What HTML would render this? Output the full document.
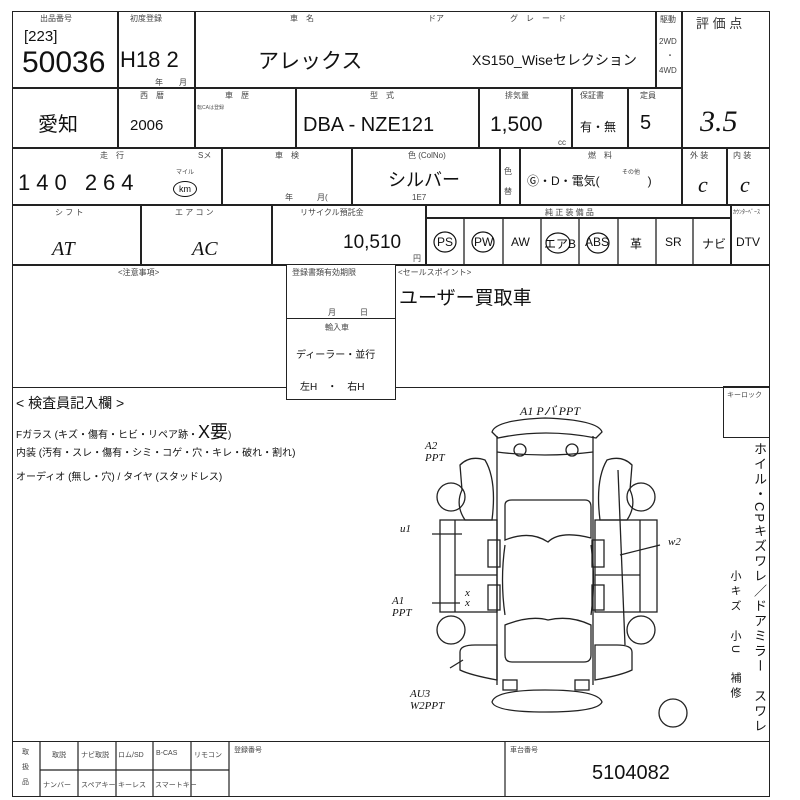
<!DOCTYPE html>
<html><head><meta charset="utf-8"><style>
body{margin:0;width:800px;height:800px;background:#fff;position:relative;overflow:hidden;font-family:"Liberation Sans","Noto Sans CJK JP",sans-serif;color:#111}
.b{position:absolute;border:1.5px solid #222;box-sizing:border-box}
.t{position:absolute;white-space:nowrap}
.h{position:absolute;font-size:8px;color:#444;white-space:nowrap}
.hw{position:absolute;font-family:"Liberation Serif","Noto Sans CJK JP",serif;font-style:italic;white-space:nowrap}
</style></head><body>
<!-- row1 -->
<div class="b" style="left:12px;top:11px;width:107px;height:78px"></div>
<div class="b" style="left:117px;top:11px;width:79px;height:78px"></div>
<div class="b" style="left:194px;top:11px;width:463px;height:78px"></div>
<div class="b" style="left:655px;top:11px;width:28px;height:78px"></div>
<div class="b" style="left:681px;top:11px;width:89px;height:138px"></div>
<div class="h" style="left:40px;top:13px">出品番号</div>
<div class="t" style="left:24px;top:28px;font-size:15px">[223]</div>
<div class="t" style="left:22px;top:46px;font-size:30px">50036</div>
<div class="h" style="left:130px;top:13px">初度登録</div>
<div class="t" style="left:120px;top:47px;font-size:22px">H18 2</div>
<div class="h" style="left:155px;top:77px">年　　月</div>
<div class="h" style="left:290px;top:13px">車　名</div>
<div class="h" style="left:428px;top:13px">ドア</div>
<div class="h" style="left:510px;top:13px">グ　レ　ー　ド</div>
<div class="t" style="left:258px;top:45px;font-size:21px">アレックス</div>
<div class="t" style="left:472px;top:50px;font-size:14px">XS150_Wiseセレクション</div>
<div class="h" style="left:660px;top:14px">駆動</div>
<div class="h" style="left:659px;top:37px">2WD</div>
<div class="h" style="left:666px;top:50px">・</div>
<div class="h" style="left:659px;top:66px">4WD</div>
<div class="t" style="left:696px;top:13px;font-size:13px;color:#333">評 価 点</div>
<div class="hw" style="left:700px;top:105px;font-size:30px">3.5</div>
<!-- row2 -->
<div class="b" style="left:12px;top:87px;width:107px;height:62px"></div>
<div class="b" style="left:117px;top:87px;width:79px;height:62px"></div>
<div class="b" style="left:194px;top:87px;width:103px;height:62px"></div>
<div class="b" style="left:295px;top:87px;width:185px;height:62px"></div>
<div class="b" style="left:478px;top:87px;width:95px;height:62px"></div>
<div class="b" style="left:571px;top:87px;width:58px;height:62px"></div>
<div class="b" style="left:627px;top:87px;width:56px;height:62px"></div>
<div class="t" style="left:38px;top:108px;font-size:20px">愛知</div>
<div class="h" style="left:140px;top:90px">西　暦</div>
<div class="t" style="left:130px;top:117px;font-size:15px">2006</div>
<div class="h" style="left:225px;top:90px">車　歴</div>
<div class="t" style="left:197px;top:104px;font-size:5px;color:#555">転CAは登録</div>
<div class="h" style="left:370px;top:90px">型　式</div>
<div class="t" style="left:303px;top:114px;font-size:20px">DBA - NZE121</div>
<div class="h" style="left:505px;top:90px">排気量</div>
<div class="t" style="left:490px;top:113px;font-size:21px">1,500</div>
<div class="h" style="left:558px;top:138px">cc</div>
<div class="h" style="left:580px;top:90px">保証書</div>
<div class="t" style="left:580px;top:118px;font-size:12px">有・無</div>
<div class="h" style="left:640px;top:90px">定員</div>
<div class="t" style="left:640px;top:112px;font-size:20px">5</div>
<!-- row3 -->
<div class="b" style="left:12px;top:147px;width:211px;height:59px"></div>
<div class="b" style="left:221px;top:147px;width:132px;height:59px"></div>
<div class="b" style="left:351px;top:147px;width:150px;height:59px"></div>
<div class="b" style="left:499px;top:147px;width:22px;height:59px"></div>
<div class="b" style="left:519px;top:147px;width:164px;height:59px"></div>
<div class="b" style="left:681px;top:147px;width:47px;height:59px"></div>
<div class="b" style="left:726px;top:147px;width:44px;height:59px"></div>
<div class="h" style="left:100px;top:150px">走　行</div>
<div class="h" style="left:198px;top:150px">Sメ</div>
<div class="t" style="left:18px;top:170px;font-size:22px;letter-spacing:6px">140 264</div>
<div class="h" style="left:176px;top:167px;font-size:6px">マイル</div>
<div style="position:absolute;left:173px;top:181px;width:22px;height:14px;border:1.2px solid #111;border-radius:50%;font-size:9px;text-align:center;line-height:14px">km</div>
<div class="h" style="left:275px;top:150px">車　検</div>
<div class="h" style="left:285px;top:192px">年　　　月(</div>
<div class="h" style="left:408px;top:150px">色 (ColNo)</div>
<div class="t" style="left:388px;top:166px;font-size:18px">シルバー</div>
<div class="h" style="left:412px;top:193px">1E7</div>
<div class="h" style="left:504px;top:166px">色</div>
<div class="h" style="left:504px;top:186px">替</div>
<div class="h" style="left:588px;top:150px">燃　料</div>
<div class="h" style="left:622px;top:167px;font-size:6px">その他</div>
<div class="t" style="left:527px;top:172px;font-size:12px">Ⓖ・D・電気(　　　　)</div>
<div class="h" style="left:690px;top:150px">外 装</div>
<div class="h" style="left:733px;top:150px">内 装</div>
<div class="hw" style="left:698px;top:172px;font-size:22px">c</div>
<div class="hw" style="left:740px;top:172px;font-size:22px">c</div>
<!-- row4 -->
<div class="b" style="left:12px;top:204px;width:130px;height:62px"></div>
<div class="b" style="left:140px;top:204px;width:133px;height:62px"></div>
<div class="b" style="left:271px;top:204px;width:156px;height:62px"></div>
<div class="b" style="left:425px;top:204px;width:307px;height:15px"></div>
<div class="b" style="left:425px;top:217px;width:307px;height:49px"></div>
<div class="b" style="left:730px;top:204px;width:40px;height:62px"></div>
<div class="h" style="left:55px;top:207px">シ フ ト</div>
<div class="h" style="left:175px;top:207px">エ ア コ ン</div>
<div class="h" style="left:300px;top:207px">リサイクル預託金</div>
<div class="hw" style="left:52px;top:238px;font-size:20px">AT</div>
<div class="hw" style="left:192px;top:238px;font-size:20px">AC</div>
<div class="t" style="left:343px;top:232px;font-size:19px">10,510</div>
<div class="h" style="left:413px;top:253px">円</div>
<div class="h" style="left:545px;top:207px">純 正 装 備 品</div>
<div class="h" style="left:733px;top:207px;font-size:6px">ｶｳﾝﾀｰﾍﾞｰｽ</div>
<svg style="position:absolute;left:0;top:0" width="800" height="800">
<g stroke="#222" stroke-width="1.3"><line x1="464" y1="218" x2="464" y2="265"/><line x1="503" y1="218" x2="503" y2="265"/><line x1="541" y1="218" x2="541" y2="265"/><line x1="579" y1="218" x2="579" y2="265"/><line x1="618" y1="218" x2="618" y2="265"/><line x1="656" y1="218" x2="656" y2="265"/><line x1="693" y1="218" x2="693" y2="265"/></g>
<g fill="none" stroke="#111" stroke-width="1.2"><ellipse cx="445" cy="242" rx="11" ry="10"/><ellipse cx="483" cy="242" rx="11" ry="10"/><ellipse cx="558" cy="243" rx="12" ry="10"/><ellipse cx="598" cy="243" rx="11" ry="10"/></g>
</svg>
<div class="t" style="left:437px;top:235px;font-size:12px">PS</div>
<div class="t" style="left:474px;top:235px;font-size:12px">PW</div>
<div class="t" style="left:511px;top:235px;font-size:12px">AW</div>
<div class="t" style="left:544px;top:235px;font-size:12px">エアB</div>
<div class="t" style="left:585px;top:235px;font-size:12px">ABS</div>
<div class="t" style="left:630px;top:235px;font-size:12px">革</div>
<div class="t" style="left:665px;top:235px;font-size:12px">SR</div>
<div class="t" style="left:702px;top:235px;font-size:12px">ナビ</div>
<div class="t" style="left:736px;top:235px;font-size:12px">DTV</div>
<!-- row5 -->
<div class="b" style="left:12px;top:264px;width:758px;height:124px"></div>
<div class="b" style="left:286px;top:264px;width:110px;height:136px;background:#fff"></div>
<div class="b" style="left:286px;top:318px;width:110px;height:82px;background:transparent"></div>
<div class="h" style="left:118px;top:267px">&lt;注意事項&gt;</div>
<div class="h" style="left:292px;top:267px">登録書類有効期限</div>
<div class="h" style="left:328px;top:307px">月　　　日</div>
<div class="h" style="left:325px;top:322px">輸入車</div>
<div class="t" style="left:296px;top:346px;font-size:10px">ディーラー・並行</div>
<div class="t" style="left:300px;top:378px;font-size:10px">左H　・　右H</div>
<div class="h" style="left:398px;top:267px">&lt;セールスポイント&gt;</div>
<div class="t" style="left:399px;top:283px;font-size:19px">ユーザー買取車</div>
<!-- inspection section -->
<div class="b" style="left:12px;top:386px;width:758px;height:356px;border-top:none"></div>
<div class="b" style="left:723px;top:386px;width:47px;height:52px"></div>
<div class="h" style="left:727px;top:390px;font-size:7px">キーロック</div>
<div class="t" style="left:16px;top:393px;font-size:14px">&lt; 検査員記入欄 &gt;</div>
<div class="t" style="left:16px;top:418px;font-size:10px">Fガラス (キズ・傷有・ヒビ・リペア跡・<span style="font-size:18px">X要</span>)</div>
<div class="t" style="left:16px;top:444px;font-size:10px">内装 (汚有・スレ・傷有・シミ・コゲ・穴・キレ・破れ・割れ)</div>
<div class="t" style="left:16px;top:468px;font-size:10px">オーディオ (無し・穴) / タイヤ (スタッドレス)</div>
<div class="t" style="left:750px;top:442px;font-size:13px;writing-mode:vertical-rl;letter-spacing:2px">ホイル・CPキズワレ／ドアミラー　スワレ</div>
<div class="t" style="left:727px;top:570px;font-size:11px;writing-mode:vertical-rl;letter-spacing:4px">小キズ　小U　補修</div>
<svg style="position:absolute;left:0;top:0" width="800" height="800" fill="none" stroke="#222" stroke-width="1.3">
<path d="M492 432 Q495 420 545 418 Q598 420 602 432 L596 438 Q545 428 498 438 Z"/>
<path d="M497 436 L497 685 M593 436 L593 685"/>
<path d="M497 452 Q545 458 593 452"/>
<circle cx="520" cy="450" r="6"/><circle cx="572" cy="450" r="6"/>
<path d="M505 505 Q505 500 512 500 L585 500 Q591 500 591 507 L591 538 Q560 530 548 542 Q530 530 505 540 Z"/>
<path d="M505 625 Q530 615 548 620 Q570 615 591 625 L591 655 Q591 662 584 662 L512 662 Q505 662 505 655 Z"/>
<path d="M505 545 Q500 580 505 615 M591 545 Q596 580 591 615"/>
<path d="M460 465 Q470 455 485 460 Q497 480 492 520 L465 520 Q455 505 462 490 Z"/>
<path d="M632 465 Q622 455 607 460 Q595 480 600 520 L627 520 Q637 505 630 490 Z"/>
<circle cx="451" cy="497" r="14"/><circle cx="641" cy="497" r="14"/>
<circle cx="451" cy="630" r="14"/><circle cx="641" cy="630" r="14"/>
<rect x="440" y="520" width="57" height="92"/><line x1="455" y1="520" x2="455" y2="612"/><line x1="455" y1="575" x2="497" y2="575"/>
<rect x="595" y="520" width="62" height="92"/><line x1="640" y1="520" x2="640" y2="612"/><line x1="595" y1="575" x2="640" y2="575"/>
<rect x="488" y="540" width="12" height="27"/><rect x="488" y="585" width="12" height="25"/>
<rect x="592" y="540" width="12" height="27"/><rect x="592" y="585" width="12" height="25"/>
<path d="M460 652 Q460 645 475 645 L497 645 L497 680 Q470 675 460 670 Z"/>
<path d="M632 652 Q632 645 617 645 L595 645 L595 680 Q622 675 632 670 Z"/>
<rect x="503" y="680" width="14" height="10"/><rect x="575" y="680" width="14" height="10"/>
<path d="M492 702 Q495 690 545 690 Q598 690 602 702 Q598 712 545 712 Q495 712 492 702 Z"/>
<circle cx="673" cy="713" r="14"/>
<line x1="618" y1="470" x2="625" y2="645"/><line x1="620" y1="555" x2="660" y2="545"/>
<line x1="432" y1="534" x2="462" y2="534"/><line x1="432" y1="603" x2="460" y2="603"/>
<line x1="450" y1="668" x2="463" y2="660"/>
</svg>
<div class="hw" style="left:520px;top:402px;font-size:12px">A1 Pバ PPT</div>
<div class="hw" style="left:425px;top:440px;font-size:11px;line-height:12px">A2<br>PPT</div>
<div class="hw" style="left:400px;top:523px;font-size:11px">u1</div>
<div class="hw" style="left:668px;top:536px;font-size:11px">w2</div>
<div class="hw" style="left:392px;top:595px;font-size:11px;line-height:12px">A1<br>PPT</div>
<div class="hw" style="left:465px;top:588px;font-size:11px;line-height:10px">x<br>x</div>
<div class="hw" style="left:410px;top:688px;font-size:11px;line-height:12px">AU3<br>W2PPT</div>
<!-- bottom -->
<div class="b" style="left:12px;top:741px;width:758px;height:56px"></div>
<svg style="position:absolute;left:0;top:0" width="800" height="800" stroke="#222" stroke-width="1.2">
<line x1="40" y1="741" x2="40" y2="797"/><line x1="78" y1="741" x2="78" y2="797"/><line x1="116" y1="741" x2="116" y2="797"/><line x1="153" y1="741" x2="153" y2="797"/><line x1="191" y1="741" x2="191" y2="797"/><line x1="229" y1="741" x2="229" y2="797"/><line x1="505" y1="741" x2="505" y2="797"/>
<line x1="40" y1="770" x2="229" y2="770"/>
</svg>
<div class="h" style="left:22px;top:745px;line-height:15px;font-size:7px">取<br>扱<br>品</div>
<div class="h" style="left:52px;top:750px;font-size:7px">取説</div>
<div class="h" style="left:81px;top:750px;font-size:7px">ナビ取説</div>
<div class="h" style="left:118px;top:750px;font-size:7px">ロム/SD</div>
<div class="h" style="left:156px;top:750px;font-size:7px">B-CAS</div>
<div class="h" style="left:194px;top:750px;font-size:7px">リモコン</div>
<div class="h" style="left:43px;top:780px;font-size:7px">ナンバー</div>
<div class="h" style="left:81px;top:780px;font-size:7px">スペアキー</div>
<div class="h" style="left:118px;top:780px;font-size:7px">キーレス</div>
<div class="h" style="left:155px;top:780px;font-size:7px">スマートキー</div>
<div class="h" style="left:234px;top:745px;font-size:7px">登録番号</div>
<div class="h" style="left:510px;top:745px;font-size:7px">車台番号</div>
<div class="t" style="left:592px;top:762px;font-size:20px">5104082</div>
</body></html>
